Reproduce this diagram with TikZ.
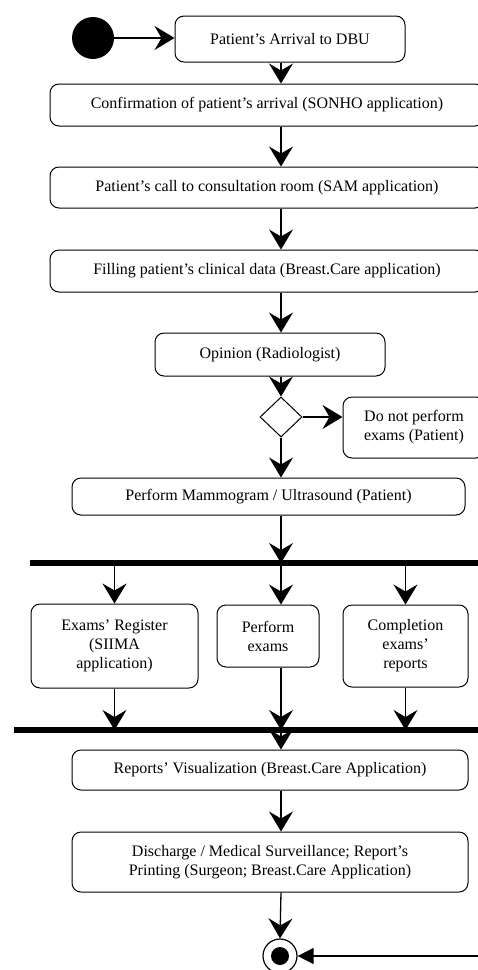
\documentclass[tikz,border=0pt]{standalone}
\usepackage{fontspec}
\setmainfont{Liberation Serif}
\usetikzlibrary{arrows.meta,shapes.geometric}
\begin{document}
\begin{tikzpicture}[x=1pt,y=-1pt,
  act/.style={draw, rounded corners=9pt, line width=1pt, align=center, inner sep=2pt,
              font=\fontsize{16}{19}\selectfont},
  flow/.style={line width=1.3pt, -{Stealth[length=20pt,width=24pt,inset=7pt]}},
  bar/.style={line width=6pt}
]
\useasboundingbox (0,0) rectangle (478,970);
\coordinate (axis) at (281,0);

\node[circle, fill, minimum size=42pt, inner sep=0pt] (start) at (93,38) {};
\node[act, minimum width=230pt, minimum height=46pt] (a1) at (290,39) {Patient’s Arrival to DBU};
\node[act, minimum width=434pt, minimum height=42pt] (a2) at (267,105) {Confirmation of patient’s arrival (SONHO application)};
\node[act, minimum width=434pt, minimum height=41pt] (a3) at (267,187.5) {Patient’s call to consultation room (SAM application)};
\node[act, minimum width=434pt, minimum height=42pt] (a4) at (267,271) {Filling patient’s clinical data (Breast.Care application)};
\node[act, minimum width=230pt, minimum height=43pt] (op) at (270,354.5) {Opinion (Radiologist)};
\node[diamond, draw, line width=1pt, minimum width=42pt, minimum height=40pt, inner sep=0pt] (dec) at (281,417) {};
\node[act, minimum width=142pt, minimum height=61pt] (dnp) at (414,427.5) {Do not perform\\exams (Patient)};
\node[act, minimum width=393pt, minimum height=37pt] (mam) at (268.5,496.5) {Perform Mammogram / Ultrasound (Patient)};

\coordinate (f1) at (30,563);
\coordinate (f2) at (484,563);
\draw[bar] (f1) -- (f2);

\node[act, minimum width=167pt, minimum height=84pt] (ea) at (114.5,646) {Exams’ Register\\(SIIMA\\application)};
\node[act, minimum width=102pt, minimum height=62pt] (eb) at (268,636) {Perform\\exams};
\node[act, minimum width=125pt, minimum height=82pt] (ec) at (405.5,646) {Completion\\exams’\\reports};

\coordinate (j1) at (14,730);
\coordinate (j2) at (484,730);
\draw[bar] (j1) -- (j2);

\node[act, minimum width=396pt, minimum height=40pt] (rv) at (270,770) {Reports’ Visualization (Breast.Care Application)};
\node[act, minimum width=396pt, minimum height=60pt] (dis) at (270,862) {Discharge / Medical Surveillance; Report’s\\Printing (Surgeon; Breast.Care Application)};

\node[circle, draw, line width=1.2pt, minimum size=34pt, inner sep=0pt] (fin) at (280,956) {};
\node[circle, fill, minimum size=18pt, inner sep=0pt] (finc) at (fin.center) {};
\coordinate (fr) at (482,956);

\draw[flow] (start.east) -- (start.east -| a1.west);
\draw[flow] (a1.south -| axis) -- (a2.north -| axis);
\draw[flow] (a2.south -| axis) -- (a3.north -| axis);
\draw[flow] (a3.south -| axis) -- (a4.north -| axis);
\draw[flow] (a4.south -| axis) -- (op.north -| axis);
\draw[flow] (op.south -| axis) -- (dec.north);
\draw[flow] (dec.east) -- (dec.east -| dnp.west);
\draw[flow] (dec.south) -- (mam.north -| axis);
\draw[flow] (mam.south -| axis) -- (f1 -| axis);
\draw[flow] (ea.north |- f1) -- (ea.north);
\draw[flow] (f1 -| axis) -- (eb.north -| axis);
\draw[flow] (ec.north |- f1) -- (ec.north);
\draw[flow] (ea.south) -- (ea.south |- j1);
\draw[flow] (eb.south -| axis) -- (j1 -| axis);
\draw[flow] (ec.south) -- (ec.south |- j1);
\draw[flow] (j1 -| axis) -- (rv.north -| axis);
\draw[flow] (rv.south -| axis) -- (dis.north -| axis);
\draw[flow] (dis.south -| axis) -- (fin.north);
\draw[line width=1.3pt, -{Triangle[length=16pt,width=16pt]}] (fr) -- (fin.east);
\end{tikzpicture}
\end{document}
